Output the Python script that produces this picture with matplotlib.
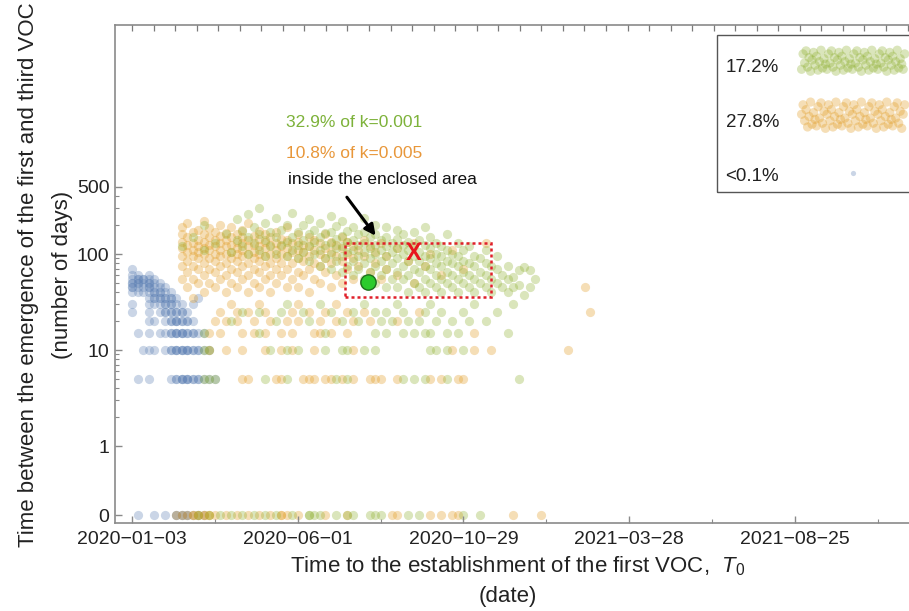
import numpy as np
import matplotlib
matplotlib.use("Agg")
import matplotlib.pyplot as plt
from matplotlib.legend_handler import HandlerPathCollection
from matplotlib.patches import Rectangle

plt.rcParams['font.family'] = ['Liberation Sans', 'DejaVu Sans']
plt.rcParams['mathtext.fontset'] = 'custom'
plt.rcParams['mathtext.it'] = 'Liberation Sans:italic'
plt.rcParams['mathtext.rm'] = 'Liberation Sans'

# x = days after 2020-01-03, y = days between first and third VOC
start = np.datetime64('2020-01-03')
x_labels = ['2020-01-03', '2020-06-01', '2020-10-29', '2021-03-28', '2021-08-25']
y_ticks = [0, 1, 10, 100, 500]
zero_at = 0.19  # where y=0 sits on the log axis

# rows of points at small y (y value -> list of days)
blue_rows = {
    0: [5, 20, 30, 40, 40, 45, 45, 50, 50, 55, 60, 65],
    5: [5, 15, 35, 40, 40, 45, 45, 45, 50, 50, 50, 55, 55, 60, 60, 65, 70, 75],
    10: [10, 15, 20, 30, 35, 35, 40, 40, 40, 45, 45, 45, 50, 50, 50, 55, 55, 60, 60, 65, 70],
    15: [5, 15, 25, 30, 35, 35, 40, 40, 40, 45, 45, 45, 50, 50, 55, 55, 60, 65],
    20: [15, 20, 30, 35, 35, 40, 40, 40, 45, 45, 50, 50, 55],
    25: [0, 15, 25, 30, 30, 35, 35, 40, 40, 45, 45, 50],
    30: [0, 15, 20, 25, 30, 30, 35, 35, 40, 45, 55],
}
# upper cloud (day -> list of y)
blue_cols = {
    0: [40, 45, 45, 50, 50, 55, 60, 70], 5: [40, 45, 50, 50, 55, 55, 60],
    10: [40, 45, 50, 55, 55], 15: [35, 40, 45, 45, 50, 50, 55, 60],
    20: [35, 35, 40, 40, 45, 50, 55], 25: [35, 35, 40, 40, 45, 50],
    30: [35, 35, 40, 45], 35: [35, 35, 40], 40: [35], 60: [35],
}

orange_rows = {
    0: [40, 45, 50, 55, 55, 60, 60, 65, 65, 70, 70, 75, 85, 95, 105, 115, 125, 135, 135,
        140, 150, 175, 195, 235, 240, 270, 280, 290, 295, 345, 370],
    5: [100, 105, 130, 135, 155, 160, 165, 175, 180, 190, 200, 215, 220, 225, 240, 270,
        280, 295, 300],
    10: [70, 85, 100, 120, 135, 145, 165, 200, 290, 310, 325, 395],
    15: [70, 80, 100, 110, 120, 135, 145, 165, 170, 180, 195, 310],
    20: [75, 85, 95, 110, 125, 140, 150, 170, 185, 200, 215, 240],
    25: [80, 95, 105, 120, 145, 160, 175, 195, 210, 260, 415],
    30: [90, 115, 150, 185],
}
orange_cols = {
    45: [55, 75, 95, 115, 135, 160, 190], 50: [45, 65, 85, 105, 125, 150, 210],
    55: [35, 55, 75, 95, 110, 130, 170], 60: [50, 70, 90, 105, 120, 140, 180],
    65: [40, 60, 80, 100, 115, 135, 160, 220], 70: [50, 70, 90, 110, 125, 150, 185],
    75: [45, 65, 85, 100, 120, 140, 170], 80: [55, 75, 95, 110, 130, 155, 200],
    85: [40, 60, 80, 100, 120, 140, 165], 90: [50, 70, 90, 105, 125, 150, 190],
    95: [45, 65, 85, 100, 115, 135, 160], 100: [55, 75, 95, 110, 130, 150, 180],
    105: [40, 60, 80, 100, 120, 140, 210], 110: [50, 70, 90, 105, 125, 155],
    115: [45, 65, 85, 100, 120, 145, 175], 120: [55, 75, 95, 115, 135, 160],
    125: [40, 60, 80, 100, 125, 150], 130: [50, 70, 90, 110, 130, 170],
    135: [60, 80, 100, 120, 145], 140: [45, 70, 95, 115, 140, 190], 145: [55, 80, 105, 130],
    150: [45, 65, 90, 110, 135, 160], 155: [60, 85, 105, 125], 160: [40, 70, 95, 120, 150],
    165: [55, 80, 110, 140], 170: [50, 75, 100, 130], 175: [65, 90, 115, 160],
    180: [45, 80, 105, 135], 185: [60, 95, 125], 190: [50, 85, 115, 150], 195: [70, 100, 135],
    200: [55, 90, 120], 205: [75, 110], 210: [50, 95, 140], 215: [65, 120], 220: [80, 105],
    225: [55, 130], 230: [70, 95], 240: [60, 115], 250: [85], 255: [50, 130], 265: [75],
    270: [100], 280: [60], 290: [110], 300: [70], 320: [130], 410: [45],
}

green_rows = {
    0: [60, 70, 80, 90, 100, 110, 120, 130, 145, 160, 160, 165, 170, 185, 195, 200, 215,
        220, 225, 250, 260, 300, 315],
    5: [65, 70, 75, 120, 140, 185, 195, 245, 255, 265, 285, 350],
    10: [65, 70, 125, 140, 150, 175, 190, 195, 210, 220, 270, 275, 285, 300],
    15: [65, 115, 175, 220, 230, 245, 255, 265, 270, 285, 295, 340],
    20: [90, 130, 160, 190, 205, 225, 235, 250, 260, 275, 290, 305, 320],
    25: [100, 115, 135, 155, 180, 200, 220, 230, 245, 265, 280, 300, 330],
    30: [140, 170, 210, 240, 270, 310, 345],
}
green_cols = {
    45: [120], 55: [150], 65: [110, 200], 75: [130], 85: [160], 90: [105], 95: [140, 230],
    100: [120, 175], 105: [100, 150, 260], 110: [130, 190], 115: [110, 160, 300],
    120: [95, 140, 210], 125: [120, 170], 130: [100, 150, 240], 135: [125, 180],
    140: [95, 135, 200], 145: [110, 150, 270], 150: [90, 125, 170], 155: [105, 140, 200],
    160: [85, 120, 160, 230], 165: [100, 135, 180], 170: [75, 110, 150, 210],
    175: [90, 125, 165], 180: [70, 100, 130, 170, 250], 185: [85, 115, 145, 195],
    190: [65, 95, 120, 155, 220], 195: [75, 105, 135, 175], 200: [60, 85, 110, 140, 190],
    205: [70, 95, 125, 160], 210: [55, 80, 105, 130, 170, 240], 215: [65, 90, 115, 150],
    220: [50, 75, 100, 125, 160, 200], 225: [60, 85, 110, 140],
    230: [45, 70, 95, 120, 150, 190], 235: [55, 80, 105, 130],
    240: [45, 65, 90, 115, 145, 180], 245: [55, 75, 100, 125, 160],
    250: [40, 60, 85, 110, 135], 255: [50, 70, 95, 120, 170], 260: [45, 65, 85, 105, 140],
    265: [40, 55, 75, 95, 125, 190], 270: [50, 70, 90, 115, 150],
    275: [45, 60, 80, 100, 130], 280: [40, 55, 75, 95, 120], 285: [50, 65, 85, 110, 160],
    290: [45, 60, 80, 100], 295: [40, 55, 75, 95, 130], 300: [50, 65, 85, 110],
    305: [45, 60, 80, 120], 310: [40, 55, 75, 95], 315: [50, 65, 90], 320: [45, 60, 80, 110],
    325: [40, 55, 75], 330: [50, 70, 95], 335: [45, 60], 340: [40, 55, 75], 345: [45, 58],
    350: [48, 68], 355: [37, 73], 360: [45, 68], 365: [55],
}

legend_labels = ['17.2%', '27.8%', '<0.1%']
note_lines = ['32.9% of k=0.001', '10.8% of k=0.005', 'inside the enclosed area']

# enclosed area, reference points
box_days = (193, 325)
box_vals = (36, 130)
dot_pt = (214, 51)
x_pt = (255, 102)

c_blue = '#5E81B5'
c_orange = '#E19C24'
c_green = '#8FB032'


def gather(rows, cols):
    xs, ys = [], []
    for y, ds in rows.items():
        xs += ds
        ys += [y] * len(ds)
    for d, vals in cols.items():
        xs += [d] * len(vals)
        ys += vals
    ys = np.array(ys, float)
    ys[ys == 0] = zero_at
    return np.array(xs, float), ys


fig = plt.figure(figsize=(9.09, 6.11), dpi=100)
ax = fig.add_axes([0.1265, 0.144, 0.8768, 0.8151])
ax.set_yscale('log')

size = 44
alpha = 0.33
xb, yb = gather(blue_rows, blue_cols)
xo, yo = gather(orange_rows, orange_cols)
xg, yg = gather(green_rows, green_cols)
sb = ax.scatter(xb, yb, s=size, color=c_blue, alpha=alpha, lw=0)
so = ax.scatter(xo, yo, s=size, color=c_orange, alpha=alpha, lw=0)
sg = ax.scatter(xg, yg, s=size, color=c_green, alpha=alpha, lw=0)

ax.set_xlim(-15.4, 706)
ax.set_ylim(0.158, 24270)

# frame in Mathematica style
for sp in ax.spines.values():
    sp.set_color('#8a8a8a')
    sp.set_linewidth(1.2)
xt = [(np.datetime64(s) - start).astype(int) for s in x_labels]
ax.set_xticks(xt)
ax.set_xticklabels([s.replace('-', '\u2212') for s in x_labels])
ax.set_xticks([t + 75 for t in xt], minor=True)
ax.set_yticks([zero_at if v == 0 else v for v in y_ticks])
ax.set_yticklabels([str(v) for v in y_ticks])
minor_y = [2, 3, 4, 5, 6, 7, 8, 9, 20, 30, 40, 50, 60, 70, 80, 90, 200, 300, 400]
ax.set_yticks(minor_y, minor=True)
ax.yaxis.set_minor_formatter(plt.NullFormatter())
ax.tick_params(which='both', direction='in', color='#8a8a8a', labelcolor='#222222',
               labelsize=14, top=False, right=False)
ax.tick_params(axis='x', which='major', length=5, width=1, pad=6)
ax.tick_params(axis='y', which='major', length=5, width=1, pad=4)
ax.tick_params(which='minor', length=3, width=0.8)

# finer unlabeled ticks along the top frame
ax2 = ax.twiny()
ax2.set_xlim(ax.get_xlim())
ax2.set_xticks(np.arange(0, 706, 19.5))
ax2.tick_params(axis='x', direction='in', length=4, width=0.9, color='#7a7a7a',
                labeltop=False, labelbottom=False)
for sp in ax2.spines.values():
    sp.set_visible(False)

# enclosed area and markers
ax.add_patch(Rectangle((box_days[0], box_vals[0]), box_days[1] - box_days[0],
                       box_vals[1] - box_vals[0], fill=False, ec='#E0202A',
                       lw=1.8, ls=(0, (1.2, 1.2)), zorder=5))
ax.plot(*dot_pt, 'o', ms=11, mfc='#2CCB2C', mec='#1B6E1B', mew=1, zorder=6)
ax.text(*x_pt, 'X', color='#E8161E', fontsize=17, fontweight='bold',
        ha='center', va='center', zorder=6)

ax.text(139, 2370, note_lines[0], color='#7DB23A', fontsize=12.5, va='center')
ax.text(139, 1120, note_lines[1], color='#E8973A', fontsize=12.5, va='center')
ax.text(141, 590, note_lines[2], color='#111111', fontsize=12.5, va='center')
ax.annotate('', xy=(222, 147), xytext=(193, 412),
            arrowprops=dict(arrowstyle='-|>', color='black', lw=2.2, mutation_scale=16))

# legend: frame drawn separately, handles are point clouds
ax.add_patch(Rectangle((0.7553, 0.665), 0.3, 0.315, transform=ax.transAxes,
                       fill=False, ec='#555555', lw=1.0, zorder=7))
n_cloud = 70
pattern = [0.12, 0.83, 0.41, 0.97, 0.22, 0.66, 0.03, 0.55, 0.9, 0.31, 0.72, 0.08,
           0.47, 1.0, 0.18, 0.61, 0.36]
hm = {
    sg: HandlerPathCollection(numpoints=n_cloud, yoffsets=np.resize(pattern, n_cloud)),
    so: HandlerPathCollection(numpoints=n_cloud,
                              yoffsets=np.resize(pattern[7:] + pattern[:7], n_cloud) * 1.25 - 0.12),
    sb: HandlerPathCollection(numpoints=1, sizes=[14]),
}
leg = ax.legend([sg, so, sb], legend_labels, handler_map=hm, loc='upper left',
                bbox_to_anchor=(0.741, 0.98), borderaxespad=0, markerfirst=False,
                fontsize=13.5, handlelength=6.1, handleheight=1.4, labelspacing=1.76,
                handletextpad=0.9, borderpad=1.06, frameon=False)
for t in leg.get_texts():
    t.set_color('#222222')

fig.text(0.031, 0.55, 'Time between the emergence of the first and third VOC',
         rotation=90, ha='center', va='center', fontsize=16, color='#222222')
fig.text(0.069, 0.55, '(number of days)', rotation=90, ha='center', va='center',
         fontsize=16, color='#222222')
fig.text(0.569, 0.074, 'Time to the establishment of the first VOC,  $T_0$',
         ha='center', va='center', fontsize=16, color='#222222')
fig.text(0.559, 0.023, '(date)', ha='center', va='center', fontsize=16, color='#222222')

fig.savefig('out.png', dpi=100)
